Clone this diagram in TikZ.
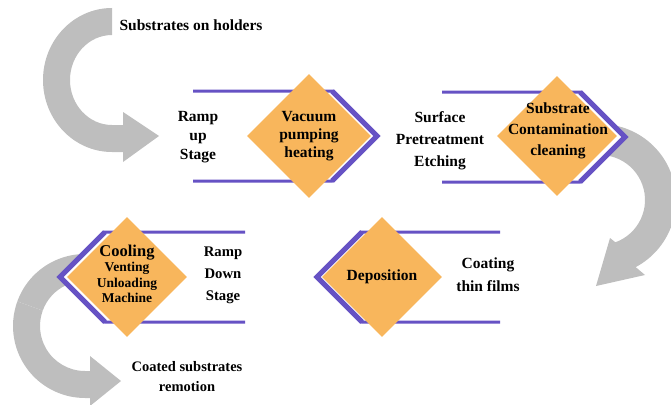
\documentclass[tikz,border=0pt]{standalone}
\usepackage{fontspec}
\setmainfont{Liberation Serif}
\usetikzlibrary{shapes.geometric,calc}
\definecolor{stagegold}{RGB}{248,182,92}
\definecolor{stagepurple}{RGB}{102,82,196}
\definecolor{flowgray}{RGB}{190,190,190}
\tikzset{
  flow/.style={fill=flowgray,draw=none},
  band/.style={draw=stagepurple,line width=3pt,fill=white},
  bandtip/.style={draw=stagepurple,line width=5pt,line join=miter},
  stage/.style={shape=diamond,fill=stagegold,minimum width=#1,minimum height=#1,inner sep=0pt},
  lbl/.style={font=\fontsize{15.5}{#1}\selectfont\bfseries,align=center,inner sep=0pt},
  lbl/.default=22
}
\begin{document}
\begin{tikzpicture}[x=1pt,y=-1pt]
\useasboundingbox (0,0) rectangle (671,404);
\fill[flow](112,8)arc[start angle=270,end angle=90,x radius=69,y radius=72]--(123,152)--(123,162)--(159,136)--(123,112)--(123,125)--(112,125)
  arc[start angle=90,end angle=270,x radius=42,y radius=45]--cycle;
\fill[flow](600,200)++(-110:76)arc[start angle=-110,end angle=62,radius=76]--(645,275)--(596,286)--(610,238)--($(600,200)+(70:45)$)
  arc[start angle=70,end angle=-110,radius=45]--cycle;
\fill[flow](85,326)++(200:72)arc[start angle=200,end angle=90,radius=72]--(90,398)--(90,406)--(121,381)--(90,356)--(90,371)--(85,371)
  arc[start angle=90,end angle=200,radius=45]--cycle;
\fill[flow](85,326)++(200:72)arc[start angle=200,end angle=290,radius=72]--($(85,326)+(290:45)$)arc[start angle=290,end angle=200,radius=45]--cycle;
\draw[band](193,91)--(332,91)--(377,136)--(332,181)--(193,181);
\draw[bandtip](332,91)--(377,136)--(332,181);
\draw[band](442,92)--(580,92)--(625,137)--(580,182)--(442,182);
\draw[bandtip](580,92)--(625,137)--(580,182);
\draw[band](500,232)--(362,232)--(317,277)--(362,322)--(500,322);
\draw[bandtip](362,232)--(317,277)--(362,322);
\draw[band](245,232)--(105,232)--(60,277)--(105,322)--(245,322);
\draw[bandtip](105,232)--(60,277)--(105,322);
\node[stage=124pt](vac)at(309,136){};
\node[stage=120pt](clean)at(557,136){};
\node[stage=120pt](depo)at(382,277){};
\node[stage=120pt](cool)at(127,277){};
\node[lbl](holders)at(191,25){Substrates on holders};
\node[lbl=19](rampup)at(198,137){Ramp\\up\\Stage};
\node[lbl=18]at(vac){Vacuum\\pumping\\heating};
\node[lbl](pretreat)at(440,141){Surface\\Pretreatment\\Etching};
\node[lbl=21]at(558,131){Substrate\\Contamination\\cleaning};
\node[lbl]at(depo){Deposition};
\node[lbl=23](coating)at(488,275){Coating\\thin films};
\node[font=\fontsize{13.5}{15.5}\selectfont\bfseries,align=center,inner sep=0pt]at(127,274){{\fontsize{16.5}{16}\selectfont Cooling}\\Venting\\Unloading\\Machine};
\node[font=\fontsize{14.7}{22}\selectfont\bfseries,align=center,inner sep=0pt](rampdown)at(223,275){Ramp\\Down\\Stage};
\node[font=\fontsize{14.5}{20}\selectfont\bfseries,align=center,inner sep=0pt](remotion)at(187,377){Coated substrates\\remotion};
\end{tikzpicture}
\end{document}
